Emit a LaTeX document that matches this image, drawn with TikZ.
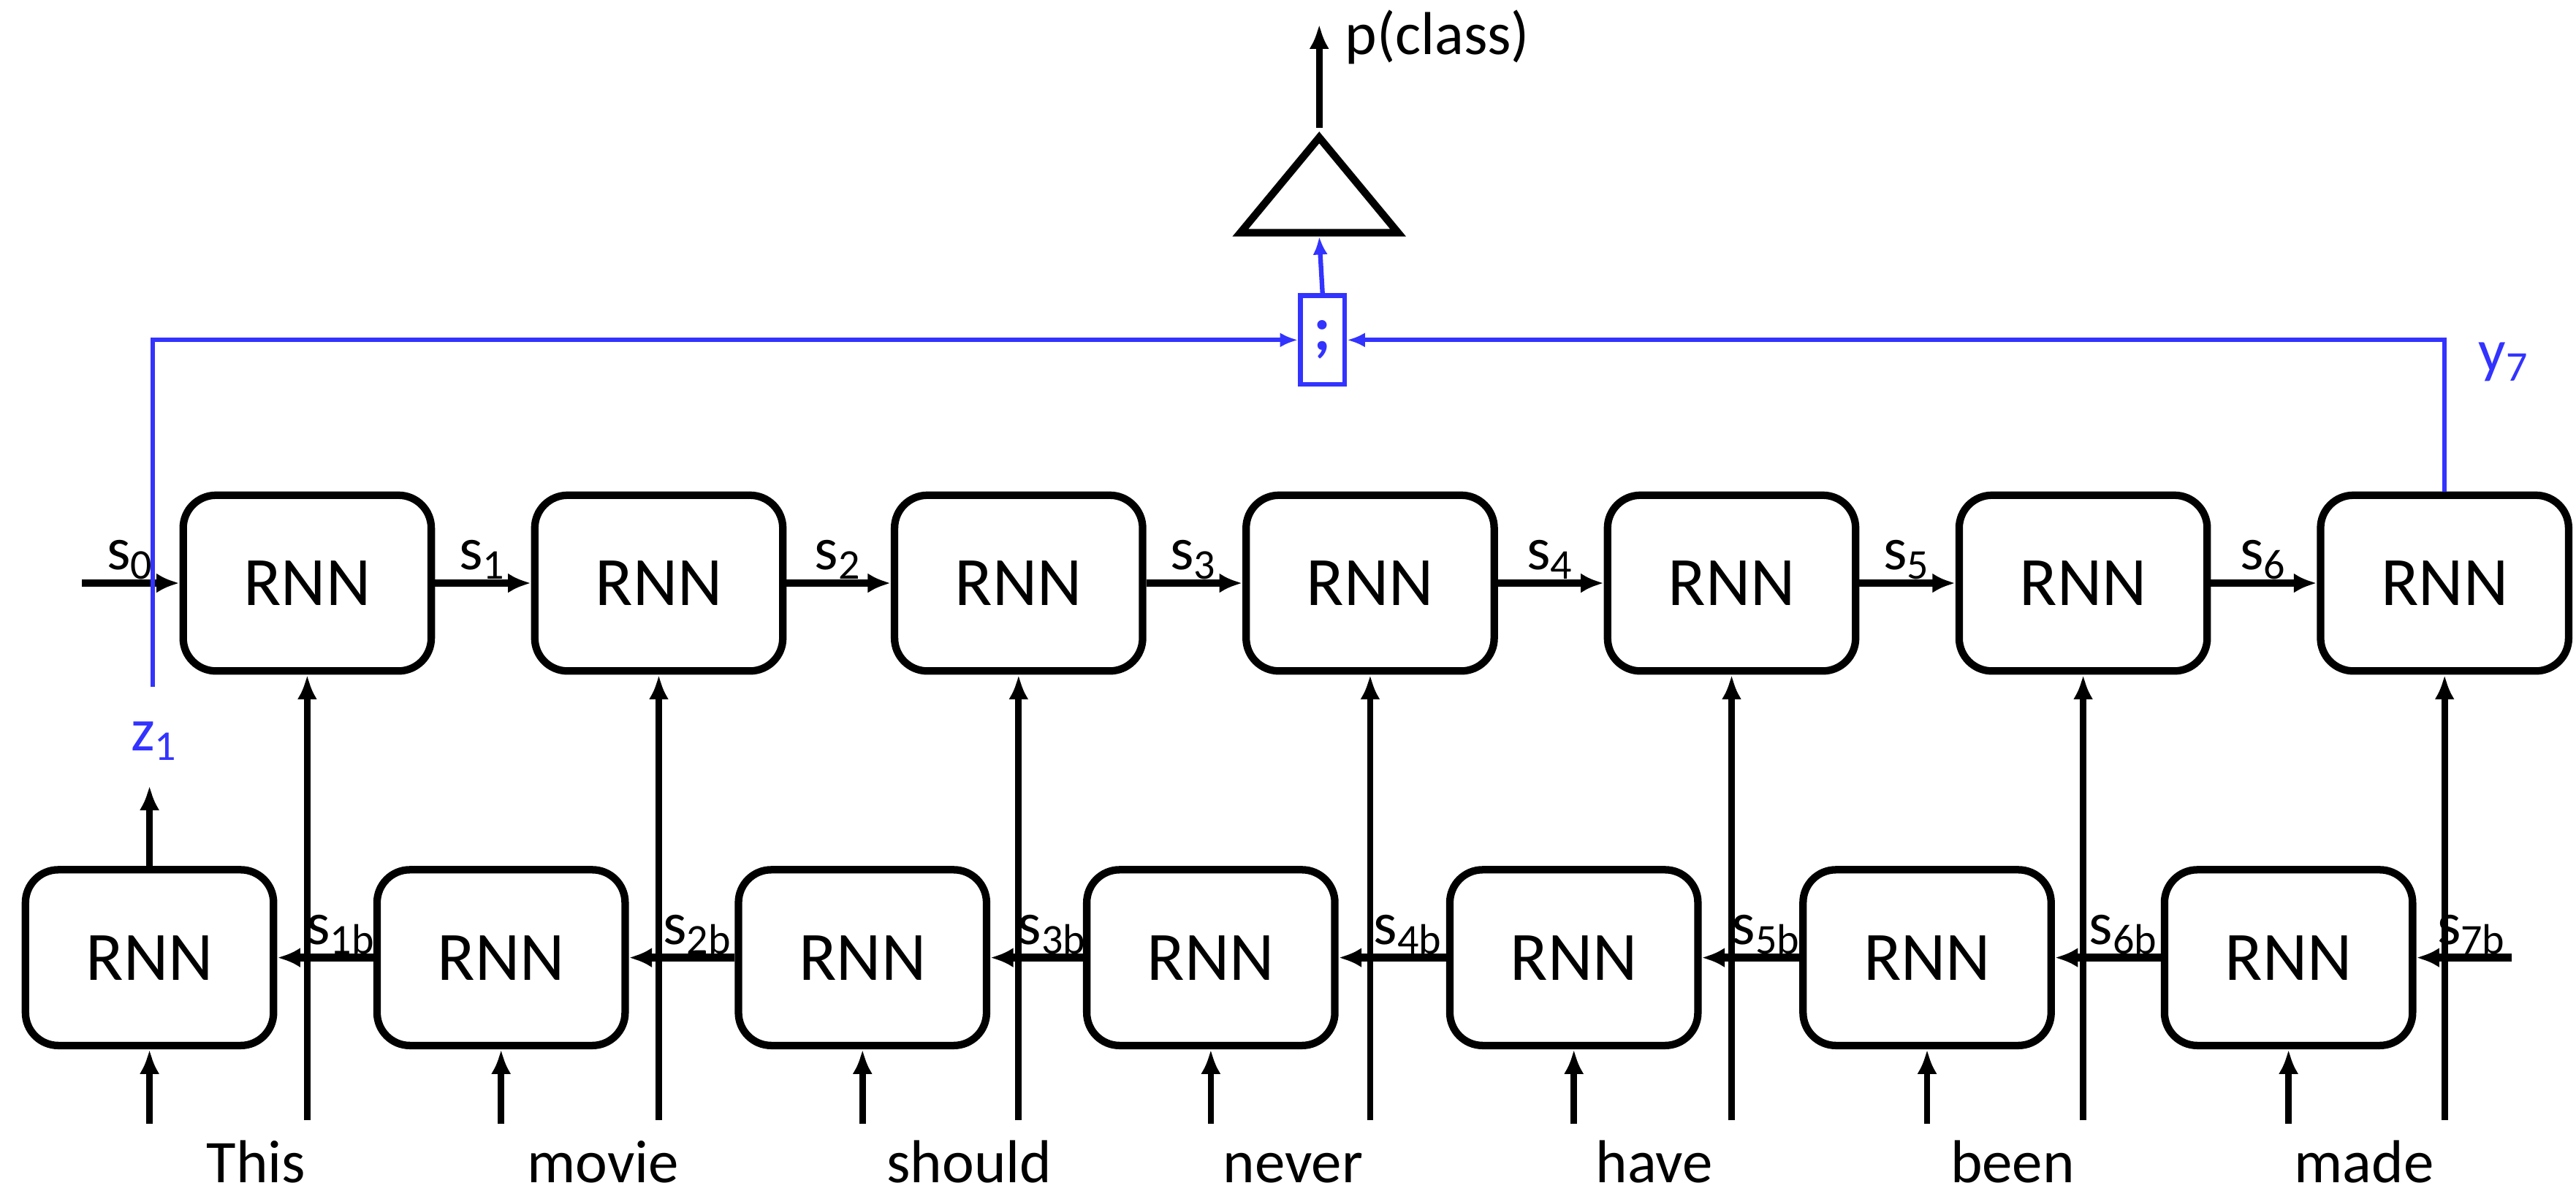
\documentclass[tikz,border=0pt]{standalone}
\usepackage{fontspec}
\setmainfont{Carlito}
\usetikzlibrary{arrows.meta,shapes.geometric}
\definecolor{catblue}{RGB}{51,51,255}

\begin{document}
\begin{tikzpicture}[
    rnn/.style={draw, line width=1.3pt, rounded corners=0.2cm, minimum width=1.51cm, minimum height=1.07cm, inner sep=0, font=\fontsize{12}{14}\selectfont},
    fwd/.style={line width=1.3pt, -{Latex[length=1.4mm,width=1.2mm]}},
    vin/.style={line width=1.1pt, -{Latex[length=1.5mm,width=1.2mm]}},
    lab/.style={font=\fontsize{10.5}{12}\selectfont, inner sep=0},
    word/.style={font=\fontsize{10.5}{12}\selectfont, inner sep=0, anchor=base},
    blu/.style={catblue, line width=0.8pt},
    bluarr/.style={blu, -{Latex[length=1.1mm,width=0.9mm]}},
    ]
    \useasboundingbox (0,0) rectangle (15.68,7.25);
    % forward RNNs
    \node[rnn] (t1) at (1.87,3.70) {RNN};
    \node[rnn] (t2) at (4.01,3.70) {RNN};
    \node[rnn] (t3) at (6.20,3.70) {RNN};
    \node[rnn] (t4) at (8.34,3.70) {RNN};
    \node[rnn] (t5) at (10.54,3.70) {RNN};
    \node[rnn] (t6) at (12.68,3.70) {RNN};
    \node[rnn] (t7) at (14.88,3.70) {RNN};
    % backward RNNs
    \node[rnn] (b1) at (0.91,1.42) {RNN};
    \node[rnn] (b2) at (3.05,1.42) {RNN};
    \node[rnn] (b3) at (5.25,1.42) {RNN};
    \node[rnn] (b4) at (7.37,1.42) {RNN};
    \node[rnn] (b5) at (9.58,1.42) {RNN};
    \node[rnn] (b6) at (11.73,1.42) {RNN};
    \node[rnn] (b7) at (13.93,1.42) {RNN};
    % words
    \node[word] (w1) at (1.56,0.05) {This};
    \node[word] (w2) at (3.67,0.05) {movie};
    \node[word] (w3) at (5.90,0.05) {should};
    \node[word] (w4) at (7.87,0.05) {never};
    \node[word] (w5) at (10.07,0.05) {have};
    \node[word] (w6) at (12.25,0.05) {been};
    \node[word] (w7) at (14.39,0.05) {made};
    % forward states
    \coordinate (s0) at (0.50,3.70);
    \draw[fwd] (s0) -- (t1.west) node[lab, midway, above] {s\textsubscript{0}};
    \draw[fwd] (t1.east) -- (t2.west) node[lab, midway, above] {s\textsubscript{1}};
    \draw[fwd] (t2.east) -- (t3.west) node[lab, midway, above] {s\textsubscript{2}};
    \draw[fwd] (t3.east) -- (t4.west) node[lab, midway, above] {s\textsubscript{3}};
    \draw[fwd] (t4.east) -- (t5.west) node[lab, midway, above] {s\textsubscript{4}};
    \draw[fwd] (t5.east) -- (t6.west) node[lab, midway, above] {s\textsubscript{5}};
    \draw[fwd] (t6.east) -- (t7.west) node[lab, midway, above] {s\textsubscript{6}};
    % backward states
    \coordinate (s7b) at (15.29,1.42);
    \draw[fwd] (s7b) -- (b7.east) node[lab, midway, above, xshift=0.5mm] {s\textsubscript{7b}};
    \draw[fwd] (b7.west) -- (b6.east) node[lab, midway, above, xshift=1mm] {s\textsubscript{6b}};
    \draw[fwd] (b6.west) -- (b5.east) node[lab, midway, above, xshift=1mm] {s\textsubscript{5b}};
    \draw[fwd] (b5.west) -- (b4.east) node[lab, midway, above, xshift=1mm] {s\textsubscript{4b}};
    \draw[fwd] (b4.west) -- (b3.east) node[lab, midway, above, xshift=1mm] {s\textsubscript{3b}};
    \draw[fwd] (b3.west) -- (b2.east) node[lab, midway, above, xshift=1mm] {s\textsubscript{2b}};
    \draw[fwd] (b2.west) -- (b1.east) node[lab, midway, above, xshift=1mm] {s\textsubscript{1b}};
    % word inputs
    \coordinate (lo) at (0,0.43);
    \coordinate (li) at (0,0.41);
    \draw[vin] (t1.south |- lo) -- (t1.south);
    \draw[vin] (t2.south |- lo) -- (t2.south);
    \draw[vin] (t3.south |- lo) -- (t3.south);
    \draw[vin] (t4.south |- lo) -- (t4.south);
    \draw[vin] (t5.south |- lo) -- (t5.south);
    \draw[vin] (t6.south |- lo) -- (t6.south);
    \draw[vin] (t7.south |- lo) -- (t7.south);
    \draw[vin] (b1.south |- li) -- (b1.south);
    \draw[vin] (b2.south |- li) -- (b2.south);
    \draw[vin] (b3.south |- li) -- (b3.south);
    \draw[vin] (b4.south |- li) -- (b4.south);
    \draw[vin] (b5.south |- li) -- (b5.south);
    \draw[vin] (b6.south |- li) -- (b6.south);
    \draw[vin] (b7.south |- li) -- (b7.south);
    % concatenation and classifier
    \node[draw, blu, minimum width=0.27cm, minimum height=0.54cm, inner sep=0, font=\bfseries\fontsize{11}{12}\selectfont] (cat) at (8.05,5.18) {;};
    \node[draw, line width=1.3pt, isosceles triangle, isosceles triangle stretches, shape border rotate=90, minimum width=0.96cm, minimum height=0.58cm, inner sep=0, anchor=lower side] (out) at (8.03,5.81) {};
    \node[lab, anchor=base west] (pc) at (8.18,6.92) {p(class)};
    \draw[vin] (out.apex) -- ++(0,0.63);
    \node[lab, catblue, anchor=base west] (z1) at (0.79,2.68) {z\textsubscript{1}};
    \node[lab, catblue, anchor=base west] (y7) at (15.08,4.99) {y\textsubscript{7}};
    \draw[vin] (b1.north) -- ++(0,0.49);
    \coordinate (zc) at (0.93,3.07);
    \draw[bluarr] (zc) |- (cat.west);
    \draw[bluarr] (t7.north) |- (cat.east);
    \draw[bluarr] (cat.north) -- (out.lower side);
    \end{tikzpicture}
\end{document}
